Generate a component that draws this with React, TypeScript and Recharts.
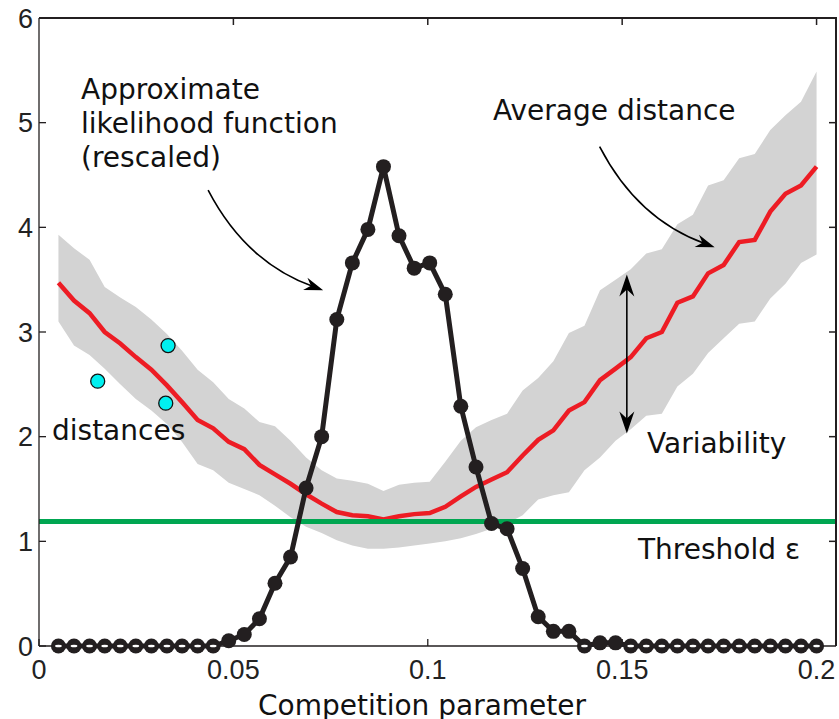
import React from 'react';
import {
  ComposedChart,
  Area,
  Line,
  Scatter,
  XAxis,
  YAxis,
  ReferenceLine,
} from 'recharts';

// competition parameter grid (50 simulated values)
const param = [
  0.005, 0.009, 0.013, 0.0169, 0.0209, 0.0249, 0.0289, 0.0329, 0.0368, 0.0408,
  0.0448, 0.0488, 0.0528, 0.0567, 0.0607, 0.0647, 0.0687, 0.0727, 0.0766, 0.0806,
  0.0846, 0.0886, 0.0926, 0.0965, 0.1005, 0.1045, 0.1085, 0.1124, 0.1164, 0.1204,
  0.1244, 0.1284, 0.1323, 0.1363, 0.1403, 0.1443, 0.1483, 0.1522, 0.1562, 0.1602,
  0.1642, 0.1682, 0.1721, 0.1761, 0.1801, 0.1841, 0.1881, 0.192, 0.196, 0.2,
];

// approximate likelihood (rescaled)
const likelihood = [
  0, 0, 0, 0, 0, 0, 0, 0, 0, 0,
  0, 0.05, 0.11, 0.26, 0.6, 0.85, 1.51, 2.0, 3.12, 3.66,
  3.98, 4.58, 3.92, 3.61, 3.66, 3.36, 2.29, 1.71, 1.17, 1.12,
  0.74, 0.28, 0.14, 0.14, 0, 0.03, 0.03, 0, 0, 0,
  0, 0, 0, 0, 0, 0, 0, 0, 0, 0,
];

// average distance and its spread
const avgDistance = [
  3.47, 3.3, 3.18, 3.0, 2.89, 2.76, 2.64, 2.49, 2.33, 2.16,
  2.08, 1.95, 1.88, 1.73, 1.64, 1.55, 1.45, 1.36, 1.28, 1.25,
  1.24, 1.21, 1.24, 1.26, 1.27, 1.33, 1.43, 1.52, 1.59, 1.66,
  1.82, 1.97, 2.06, 2.25, 2.33, 2.54, 2.65, 2.76, 2.94, 3.0,
  3.28, 3.34, 3.56, 3.64, 3.86, 3.88, 4.15, 4.32, 4.4, 4.58,
];
const spreadLow = [
  3.1, 2.87, 2.78, 2.65, 2.5, 2.36, 2.25, 2.12, 1.95, 1.74,
  1.68, 1.56, 1.5, 1.44, 1.34, 1.23, 1.14, 1.08, 1.01, 0.96,
  0.93, 0.93, 0.94, 0.96, 0.98, 1.0, 1.03, 1.07, 1.12, 1.17,
  1.25, 1.4, 1.44, 1.47, 1.68, 1.8, 1.96, 2.07, 2.2, 2.22,
  2.48, 2.6, 2.8, 2.94, 3.08, 3.1, 3.32, 3.46, 3.66, 3.74,
];
const spreadHigh = [
  3.93, 3.8, 3.69, 3.43, 3.33, 3.24, 3.12, 2.98, 2.82, 2.64,
  2.52, 2.36, 2.27, 2.14, 2.1, 1.96, 1.8, 1.68, 1.6, 1.58,
  1.55, 1.48, 1.54, 1.56, 1.57, 1.76, 1.96, 2.09, 2.16, 2.22,
  2.44, 2.56, 2.72, 2.99, 3.06, 3.4, 3.5, 3.6, 3.75, 3.79,
  4.03, 4.12, 4.4, 4.45, 4.66, 4.7, 4.93, 5.07, 5.2, 5.49,
];

// individual simulated distances
const sampleX = [0.0151, 0.0326, 0.0332];
const sampleY = [2.53, 2.32, 2.87];

const threshold = 1.19;
const xMax = 0.205;
const yMax = 6;
const xTicks = [0, 0.05, 0.1, 0.15, 0.2];
const yTicks = [0, 1, 2, 3, 4, 5, 6];

const rows = param.map((x, i) => ({
  x,
  lik: likelihood[i],
  avg: avgDistance[i],
  band: [spreadLow[i], spreadHigh[i]],
}));
const samples = sampleX.map((x, i) => ({ x, y: sampleY[i] }));

const INK = '#231f20';
const TEXT_FONT = '"DejaVu Sans", sans-serif';
const TICK_FONT = '"Liberation Sans", Arial, sans-serif';
const W = 839;
const H = 719;
const TICK_LEN = 7;

// chart layout (margins + axis sizes) shared by the chart and the box overlay
const MARGIN = { top: 18, right: 3, left: 0, bottom: 0 };
const Y_AXIS_W = 39;
const X_AXIS_H = 73;
const BOX = {
  left: MARGIN.left + Y_AXIS_W,
  top: MARGIN.top,
  right: W - MARGIN.right,
  bottom: H - MARGIN.bottom - X_AXIS_H,
};

function arrowHead(tx: number, ty: number, ux: number, uy: number, len: number, half: number, notch: number) {
  const nx = -uy;
  const ny = ux;
  const bx = tx - ux * len;
  const by = ty - uy * len;
  return `M${tx},${ty} L${bx + nx * half},${by + ny * half} L${tx - ux * (len - notch)},${ty - uy * (len - notch)} L${bx - nx * half},${by - ny * half} Z`;
}

// curved pointer; bend pushes the control point off the chord
const curvedArrow = (bend: number) => (props: any) => {
  const { x1, y1, x2, y2 } = props;
  const dx = x2 - x1;
  const dy = y2 - y1;
  const d = Math.hypot(dx, dy) || 1;
  const cx = (x1 + x2) / 2 - (dy / d) * bend;
  const cy = (y1 + y2) / 2 + (dx / d) * bend;
  const ex = x2 - cx;
  const ey = y2 - cy;
  const e = Math.hypot(ex, ey) || 1;
  const ux = ex / e;
  const uy = ey / e;
  const endX = x2 - ux * 10;
  const endY = y2 - uy * 10;
  return (
    <g>
      <path d={`M${x1},${y1} Q${cx},${cy} ${endX},${endY}`} fill="none" stroke="#000" strokeWidth={1.6} />
      <path d={arrowHead(x2, y2, ux, uy, 19, 6.5, 6)} fill="#000" />
    </g>
  );
};

const doubleArrow = (props: any) => {
  const { x1, y1, x2, y2 } = props;
  const d = Math.hypot(x2 - x1, y2 - y1) || 1;
  const ux = (x2 - x1) / d;
  const uy = (y2 - y1) / d;
  return (
    <g>
      <line x1={x1 + ux * 12} y1={y1 + uy * 12} x2={x2 - ux * 12} y2={y2 - uy * 12} stroke="#000" strokeWidth={1.6} />
      <path d={arrowHead(x1, y1, -ux, -uy, 22, 7.5, 7)} fill="#000" />
      <path d={arrowHead(x2, y2, ux, uy, 22, 7.5, 7)} fill="#000" />
    </g>
  );
};

const likelihoodDot = (props: any) => {
  const { cx, cy, index, payload } = props;
  return (
    <g key={`lk-${index}`}>
      <circle cx={cx} cy={cy} r={7.5} fill={INK} />
      {payload.lik === 0 && <ellipse cx={cx} cy={cy} rx={3.4} ry={1.3} fill="#fff" />}
    </g>
  );
};

const boxX = (v: number) => BOX.left + (v / xMax) * (BOX.right - BOX.left);
const boxY = (v: number) => BOX.bottom - (v / yMax) * (BOX.bottom - BOX.top);

// top/right edges of the box (plain css borders)
const BoxEdges = () => (
  <div
    style={{
      position: 'absolute',
      left: BOX.left,
      top: BOX.top - 1,
      width: BOX.right - BOX.left + 1,
      height: BOX.bottom - BOX.top + 1,
      boxSizing: 'border-box',
      borderTop: `2px solid ${INK}`,
      borderRight: `2px solid ${INK}`,
      pointerEvents: 'none',
    }}
  />
);

// inward ticks on the top/right edges and all text labels, on top of every series
const Overlay = () => (
  <svg
    width={W}
    height={H}
    style={{ position: 'absolute', left: 0, top: 0, pointerEvents: 'none' }}
  >
    <g stroke={INK} strokeWidth={1.5} fill="none">
      {xTicks.slice(1).map((t) => (
        <line key={`tx-${t}`} x1={boxX(t)} y1={BOX.top} x2={boxX(t)} y2={BOX.top + TICK_LEN} />
      ))}
      {yTicks.slice(1, -1).map((t) => (
        <line key={`ty-${t}`} x1={BOX.right - TICK_LEN} y1={boxY(t)} x2={BOX.right} y2={boxY(t)} />
      ))}
    </g>
    <g fontFamily={TEXT_FONT} fontSize={28} fill="#111">
      <text x={81} y={99}>Approximate</text>
      <text x={81} y={133}>likelihood function</text>
      <text x={81} y={167}>(rescaled)</text>
      <text x={493} y={120}>Average distance</text>
      <text x={52} y={440}>distances</text>
      <text x={647} y={453}>Variability</text>
      <text x={638} y={559}>Threshold ε</text>
      <text x={422} y={715} textAnchor="middle">Competition parameter</text>
    </g>
  </svg>
);

const tickStyle = { fontFamily: TICK_FONT, fontSize: 27, fill: '#222' };
const frameLine = { stroke: INK, strokeWidth: 1.3 };

export default function App() {
  return (
    <div style={{ position: 'absolute', left: 0, top: 0, width: W, height: H, background: '#fff' }}>
      <ComposedChart width={W} height={H} data={rows} margin={MARGIN}>
        <XAxis
          dataKey="x"
          type="number"
          domain={[0, xMax]}
          ticks={xTicks}
          height={X_AXIS_H}
          tickSize={-TICK_LEN}
          tickMargin={21}
          tick={tickStyle}
          axisLine={frameLine}
          tickLine={frameLine}
        />
        <YAxis
          type="number"
          domain={[0, yMax]}
          ticks={yTicks}
          width={Y_AXIS_W}
          tickSize={-TICK_LEN}
          tickMargin={13}
          tick={tickStyle}
          axisLine={frameLine}
          tickLine={frameLine}
        />
        <Area
          type="linear"
          dataKey="band"
          stroke="none"
          fill="#d3d3d3"
          fillOpacity={1}
          isAnimationActive={false}
          activeDot={false}
        />
        <Line
          type="linear"
          dataKey="avg"
          stroke="#ed1c24"
          strokeWidth={4.5}
          dot={false}
          activeDot={false}
          isAnimationActive={false}
        />
        <ReferenceLine y={threshold} stroke="#00a651" strokeWidth={5} />
        <Line
          type="linear"
          dataKey="lik"
          stroke={INK}
          strokeWidth={5}
          dot={likelihoodDot}
          activeDot={false}
          isAnimationActive={false}
        />
        <Scatter
          data={samples}
          dataKey="y"
          fill="#00f0f0"
          shape={(p: any) => <circle cx={p.cx} cy={p.cy} r={7} fill="#00f0f0" stroke="#111" strokeWidth={1.3} />}
          isAnimationActive={false}
        />
        <ReferenceLine
          segment={[{ x: 0.0435, y: 4.355 }, { x: 0.0731, y: 3.4 }]}
          shape={curvedArrow(30)}
        />
        <ReferenceLine
          segment={[{ x: 0.1442, y: 4.77 }, { x: 0.1738, y: 3.81 }]}
          shape={curvedArrow(30)}
        />
        <ReferenceLine
          segment={[{ x: 0.1512, y: 3.55 }, { x: 0.1512, y: 2.03 }]}
          shape={doubleArrow}
        />
      </ComposedChart>
      <BoxEdges />
      <Overlay />
    </div>
  );
}
